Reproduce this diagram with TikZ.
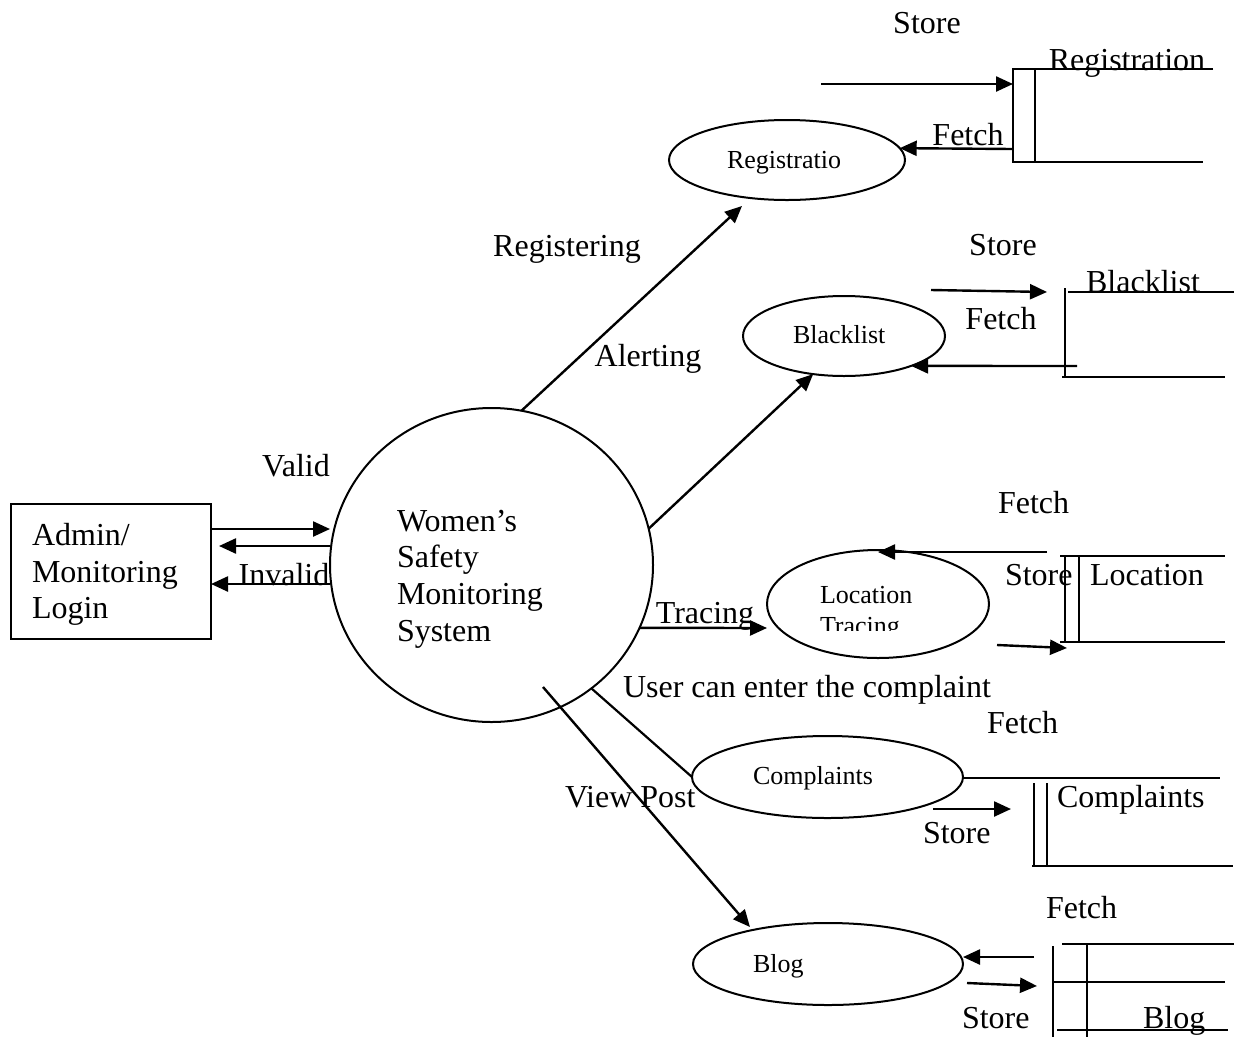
\documentclass[tikz,border=0pt]{standalone}
\usepackage{fontspec}
\setmainfont{Liberation Serif}
\usetikzlibrary{arrows.meta,shapes.geometric}
\begin{document}
\begin{tikzpicture}[x=1pt,y=-1pt,
  every node/.style={inner sep=0pt,outer sep=0pt},
  big/.style={font=\fontsize{32}{37}\selectfont},
  small/.style={font=\fontsize{26}{30}\selectfont},
  proc/.style={ellipse,draw,line width=2pt},
  flow/.style={line width=2.4pt,-{Triangle[length=17pt,width=15pt]}},
  link/.style={line width=2.2pt},
  storeedge/.style={line width=2.2pt},
  storeinner/.style={line width=1.6pt},
]
\fill[white] (0,0) rectangle (1234,1037);
\useasboundingbox (0,0) rectangle (1234,1037);

% ---------- external entity ----------
\node[draw,line width=2pt,minimum width=200pt,minimum height=135pt,anchor=north west] (login) at (11,504) {};
\node[big,anchor=base west] (loginA) at (32,545) {Admin/};
\node[big,anchor=base west] (loginB) at (32,582) {Monitoring};
\node[big,anchor=base west] (loginC) at (32,618) {Login};

% ---------- central process ----------
\node[proc,minimum width=323pt,minimum height=314pt] (sys) at (491.5,565) {};
\node[big,anchor=base west] (sysA) at (397,531) {Women's};
\node[big,anchor=base west] (sysB) at (397,567.5) {Safety};
\node[big,anchor=base west] (sysC) at (397,604) {Monitoring};
\node[big,anchor=base west] (sysD) at (397,641) {System};

% ---------- sub processes ----------
\node[proc,minimum width=236pt,minimum height=80pt] (reg) at (787,160) {};
\node[small,anchor=base west] (regtxt) at (727,168) {Registratio};

\node[proc,minimum width=202pt,minimum height=80pt] (black) at (844,336) {};
\node[small,anchor=base west] (blacktxt) at (793,343) {Blacklist};

\node[proc,minimum width=222pt,minimum height=108pt] (loc) at (878,604) {};
\node[small,anchor=base west] (loctxtA) at (820,603) {Location};
\begin{scope}
  \clip (780,600) rectangle (980,630);
  \node[small,anchor=base west] (loctxtB) at (820,634) {Tracing};
\end{scope}

\node[proc,minimum width=271pt,minimum height=82pt] (comp) at (827.5,777) {};
\node[small,anchor=base west] (comptxt) at (753,784) {Complaints};

\node[proc,minimum width=270pt,minimum height=82pt] (blog) at (828,964) {};
\node[small,anchor=base west] (blogtxt) at (753,972) {Blog};

% ---------- login flows ----------
\node[big,anchor=base] (lvalid) at (296,476) {Valid};
\node[big,anchor=base] (linvalid) at (284,585) {Invalid};
\draw[flow] (login.east |- 0,529) -- (sys.west |- 0,529);
\draw[flow,shorten >=8pt] (sys.west |- 0,546) -- (login.east |- 0,546);
\draw[flow] (sys.west |- 0,584) -- (login.east |- 0,584);

% ---------- flows from the central process ----------
\coordinate (regin) at (742,206);
\draw[flow] (sys.79) -- (regin);
\node[big,anchor=base] (lreg) at (567,256) {Registering};

\draw[flow] (sys.13) -- (black.231);
\node[big,anchor=base] (lalert) at (648,366) {Alerting};

\draw[flow] (sys.-23) -- (loc.west |- 0,628);
\node[big,anchor=base] (ltrace) at (705,623) {Tracing};

\draw[link] (sys.-51) -- (comp.west);
\node[big,anchor=base west] (lcomp) at (623,697) {User can enter the complaint};

\coordinate (vpfrom) at (543,687);
\coordinate (vpto) at (750,927);
\draw[flow] (vpfrom) -- (vpto);
\node[big,anchor=base west] (lview) at (565,807) {View Post};

% ---------- data store: Registration ----------
\draw[storeedge] (1213,69) -- (1013,69) -- (1013,162) -- (1203,162);
\draw[storeinner] (1035,69) -- (1035,162);
\node[big,anchor=base] (dsreg) at (1127,70) {Registration};
\coordinate (rsrc) at (821,84);
\coordinate (rdst) at (1013,84);
\draw[flow] (rsrc) -- (rdst);
\node[big,anchor=base] (lrstore) at (927,33) {Store};
\coordinate (rout) at (1013,149);
\draw[flow] (rout) -- (reg.6);
\node[big,anchor=base] (lrfetch) at (968,145) {Fetch};

% ---------- data store: Blacklist ----------
\draw[storeedge] (1065,288) -- (1065,377);
\draw[storeedge] (1068,292) -- (1234,292);
\draw[storeedge] (1062,377) -- (1225,377);
\node[big,anchor=base] (dsblack) at (1143,292) {Blacklist};
\coordinate (bsrc) at (931,290);
\coordinate (bdst) at (1047,292);
\draw[flow] (bsrc) -- (bdst);
\node[big,anchor=base] (lbstore) at (1003,255) {Store};
\coordinate (bout) at (1077,366);
\draw[flow] (bout) -- (black.-24);
\node[big,anchor=base] (lbfetch) at (1001,329) {Fetch};

% ---------- data store: Location ----------
\draw[storeedge] (1060,556) -- (1225,556);
\draw[storeedge] (1060,642) -- (1225,642);
\draw[storeedge] (1065,557) -- (1065,642);
\draw[storeinner] (1079,557) -- (1079,642);
\node[big,anchor=base] (dsloc) at (1147,585) {Location};
\node[big,anchor=base west] (llstore) at (1005,585) {Store};
\coordinate (lout) at (1047,552);
\draw[flow] (lout) -- (loc.north |- 0,552);
\node[big,anchor=base west] (llfetch) at (998,513) {Fetch};
\coordinate (lsrc) at (997,645);
\coordinate (ldst) at (1067,648);
\draw[flow] (lsrc) -- (ldst);

% ---------- data store: Complaints ----------
\draw[link] (comp.east |- 0,778) -- (1023,778);
\draw[storeedge] (1020,778) -- (1220,778);
\draw[storeedge] (1032,866) -- (1233,866);
\draw[storeinner] (1034,783) -- (1034,866);
\draw[storeinner] (1047,783) -- (1047,866);
\node[big,anchor=base west] (dscomp) at (1057,807) {Complaints};
\node[big,anchor=base west] (lcfetch) at (987,733) {Fetch};
\coordinate (csrc) at (933,809);
\coordinate (cdst) at (1011,809);
\draw[flow] (csrc) -- (cdst);
\node[big,anchor=base west] (lcstore) at (923,843) {Store};

% ---------- data store: Blog ----------
\draw[storeinner] (1053,946) -- (1053,1037);
\draw[storeinner] (1087,944) -- (1087,1037);
\draw[storeedge] (1062,944) -- (1234,944);
\draw[storeedge] (1053,982) -- (1225,982);
\node[big,anchor=base west] (dsblog) at (1143,1028) {Blog};
\draw[storeedge] (1057,1030) -- (1228,1030);
\coordinate (gout) at (1034,957);
\draw[flow] (gout) -- (blog.east |- 0,957);
\node[big,anchor=base west] (lgfetch) at (1046,918) {Fetch};
\coordinate (gsrc) at (967,983);
\coordinate (gdst) at (1037,986);
\draw[flow] (gsrc) -- (gdst);
\node[big,anchor=base west] (lgstore) at (962,1028) {Store};
\end{tikzpicture}
\end{document}
